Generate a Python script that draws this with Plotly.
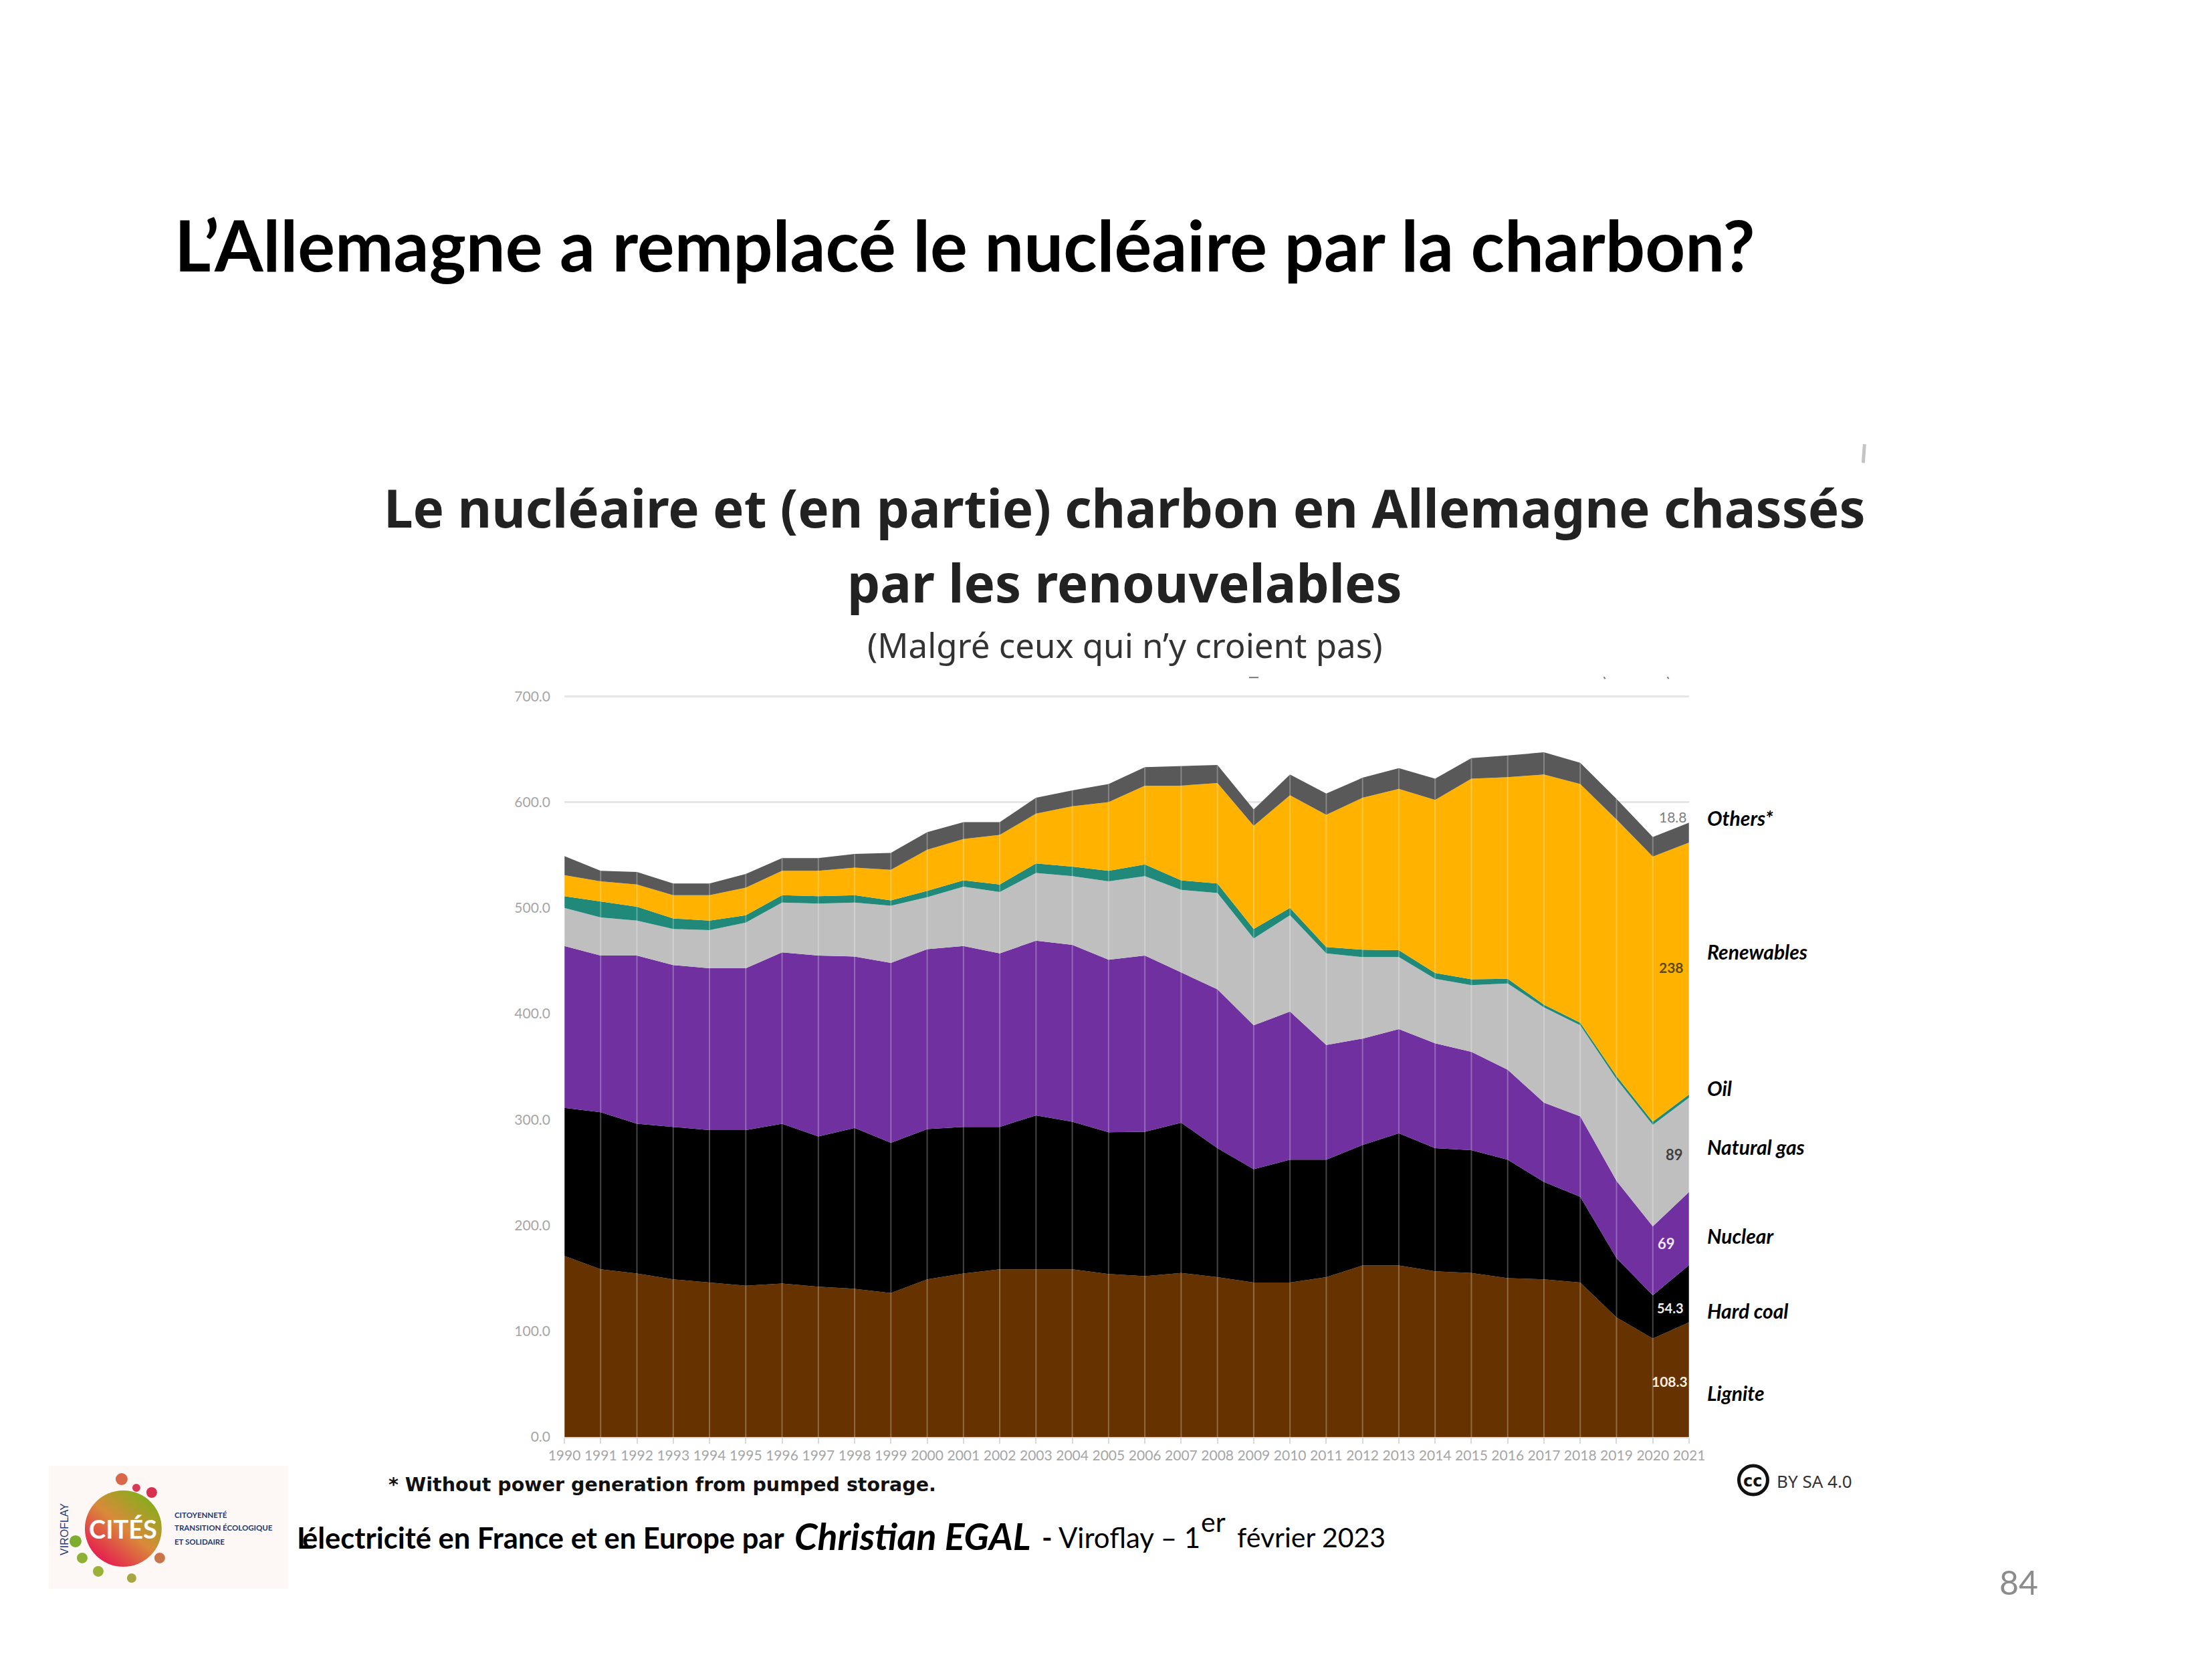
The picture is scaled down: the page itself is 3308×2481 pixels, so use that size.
import base64
import plotly.graph_objects as go

W, H = 3308, 2481
# plot area on the page, pixels (top leaves a little room so the 700 grid line shows)
L, R, T, B = 843.5, 2526.5, 1037.8, 2149

years = list(range(1990, 2022))
lignite = [171, 158.5, 154.5, 149, 146, 143, 145, 142, 140, 136, 149, 154.5, 158.5, 158.5, 158.5, 154,
           152, 155, 151, 146, 146, 151, 162, 162, 156.5, 155, 150, 149, 146, 113, 93, 108.3]
hard_coal = [140, 148.5, 141.5, 144, 144, 147, 151, 142, 152, 142, 142, 138.5, 134.5, 145.5, 139.5, 134,
             136.5, 142, 122, 107, 116, 111, 114, 125, 116.5, 116, 112, 92, 81, 56, 41, 54.3]
nuclear = [153, 148, 159, 153, 153, 153, 162, 171, 162, 170, 170, 171, 164, 165, 167, 163,
           166.5, 142, 150, 136, 140, 108.5, 100.5, 98.5, 99, 93, 85, 75, 76, 73, 65, 69]
natural_gas = [36, 36, 33, 34, 36, 43, 47, 49, 51, 54, 49, 56, 58, 64, 65, 74,
               75, 78, 91, 82, 91, 86.5, 77, 68, 61, 63, 81.5, 90, 86, 96, 96, 89]
oil = [11, 15, 13, 10, 9, 7, 7, 7, 7, 5, 6, 6, 7, 9, 9, 10,
       11, 9, 9, 9, 7, 6, 7, 6.5, 5.5, 5.5, 4.5, 2.5, 2.5, 3, 3, 3.1]
renewables = [20, 19, 21, 22, 24, 26, 23, 24, 26, 29, 39, 39, 47, 47, 57, 65,
              74.5, 89.5, 95, 97.5, 106.5, 125, 143.5, 152.5, 163.5, 189.5, 190.5, 217.5, 225.5, 242.5, 250.5, 238]
others = [18, 10, 12, 11, 11, 13, 12, 12, 13, 16, 16.5, 16, 12, 15, 15, 17,
          17.5, 18.5, 17, 15.5, 19.5, 20, 19, 19.5, 20, 19.5, 20.5, 21, 20, 19.5, 18.5, 18.8]

series_names = ['Lignite', 'Hard coal', 'Nuclear', 'Natural gas', 'Oil', 'Renewables', 'Others*']
series_values = [lignite, hard_coal, nuclear, natural_gas, oil, renewables, others]
series_colors = ['#663300', '#000000', '#7030a0', '#bfbfbf', '#20897a', '#ffb300', '#595959']
label_y = [2088, 1965, 1853, 1720, 1632, 1428, 1228]  # side labels, page pixels

y_ticks = [0, 100, 200, 300, 400, 500, 600, 700]
y_ticktext = ['0.0', '100.0', '200.0', '300.0', '400.0', '500.0', '600.0', '700.0']
totals = [sum(v) for v in zip(*series_values)]


def px(x):
    return (x - L) / (R - L)


def py(y):
    return (B - y) / (B - T)


def text(x, y, s, size, color='#000000', font='Lato', anchor='left', angle=0):
    # -5: annotations sit a little low with yanchor middle
    return dict(xref='paper', yref='paper', x=px(x), y=py(y - 5), text=s, showarrow=False,
                xanchor=anchor, yanchor='middle', textangle=angle, align=anchor,
                font=dict(family=font, size=size, color=color))


fig = go.Figure()
for name, vals, col in zip(series_names, series_values, series_colors):
    fig.add_trace(go.Scatter(x=years, y=vals, name=name, mode='lines', stackgroup='one',
                             line=dict(width=0, color=col), fillcolor=col, hoverinfo='x+y+name'))

# the pale year lines on top of the areas
vx, vy = [], []
for yr, tot in zip(years, totals):
    vx += [yr, yr, None]
    vy += [0, tot, None]
fig.add_trace(go.Scatter(x=vx, y=vy, mode='lines', line=dict(color='rgba(255,255,255,0.27)', width=2),
                         hoverinfo='skip', showlegend=False))

notes = [
    text(258, 370, '<b>L’Allemagne a remplacé le nucléaire par la charbon?</b>', 104.5),
    text(1682, 764, '<b>Le nucléaire et (en partie) charbon en Allemagne chassés</b>', 78, '#222222', 'Noto Sans', 'center'),
    text(1682, 876, '<b>par les renouvelables</b>', 78, '#222222', 'Noto Sans', 'center'),
    text(1682, 969, '(Malgré ceux qui n’y croient pas)', 51, '#333333', 'Noto Sans', 'center'),
    text(578, 2226, '<b>* Without power generation from pumped storage.</b>', 28.5, '#111111', 'DejaVu Sans'),
    text(2656, 2220, 'BY SA 4.0', 26, '#333333', 'Noto Sans'),
    text(2622, 2220, '<b>cc</b>', 24, '#111111', 'DejaVu Sans', 'center'),
    text(441, 2304, '<b>L</b>', 43.5),
    text(449, 2304, '<b>électricité en France et en Europe par</b>', 43.5),
    text(1186, 2302, '<b><i>Christian EGAL</i></b>', 55.5),
    text(1556, 2304, '<b>-</b> Viroflay – 1', 42),
    text(1794, 2281, 'er', 41),
    text(1848, 2304, 'février 2023', 41),
    text(3020, 2371, '84', 50, '#8c8c8c', 'Lato', 'center'),
    # data labels at the right end
    text(2502, 1226, '18.8', 21, '#7f7f7f', 'Lato', 'center'),
    text(2500, 1451, '<b>238</b>', 21, '#5f4a10', 'Lato', 'center'),
    text(2504, 1731, '<b>89</b>', 22, '#404040', 'Lato', 'center'),
    text(2492, 1864, '<b>69</b>', 22, '#f3e6fb', 'Lato', 'center'),
    text(2498, 1961, '<b>54.3</b>', 20, '#f0f0f0', 'Lato', 'center'),
    text(2497, 2070, '<b>108.3</b>', 21, '#fbeedd', 'Lato', 'center'),
    # logo text
    text(183, 2291, '<b>CITÉS</b>', 38, '#ffffff', 'Lato', 'center'),
    text(96, 2292, 'VIROFLAY', 16, '#1f3a6e', 'Liberation Sans', 'center', -90),
    text(258, 2271, '<b>CITOYENNETÉ</b>', 11.5, '#1f3a6e', 'Lato'),
    text(258, 2290, '<b>TRANSITION ÉCOLOGIQUE</b>', 11.5, '#1f3a6e', 'Lato'),
    text(258, 2311, '<b>ET SOLIDAIRE</b>', 11.5, '#1f3a6e', 'Lato'),
]
for name, yp in zip(series_names, label_y):
    notes.append(text(2552, yp, '<b><i>' + name + '</i></b>', 30, '#000000', 'Lato'))


def box(kind, x0, y0, x1, y1, **kw):
    return dict(type=kind, xref='paper', yref='paper', x0=px(x0), x1=px(x1), y0=py(y0), y1=py(y1), **kw)


shapes = [
    box('rect', 72, 2192, 430, 2376, fillcolor='#fdf8f6', line_width=0, layer='below'),
    box('circle', 2601, 2192, 2644, 2235, line=dict(color='#111111', width=5)),
    box('line', 2789, 664, 2787, 692, line=dict(color='#c4c4c4', width=5)),
    # cropped text remnants above the chart
    box('line', 1868, 1013, 1882, 1013, line=dict(color='#777777', width=2)),
    box('line', 2399, 1012, 2401, 1015, line=dict(color='#777777', width=2)),
    box('line', 2494, 1012, 2496, 1015, line=dict(color='#777777', width=2)),
]
# bits around the logo globe
for cx, cy, r, col in [(181, 2212, 9, '#d9674a'), (203, 2225, 6, '#d83a56'), (226, 2232, 8, '#d8304f'),
                       (112, 2305, 9, '#7fae2e'), (122, 2330, 8, '#8fb034'), (196, 2360, 7, '#a8a642'),
                       (238, 2330, 8, '#c9744a'), (146, 2350, 8, '#9bb13a')]:
    shapes.append(box('circle', cx - r, cy - r, cx + r, cy + r, fillcolor=col, line_width=0))

globe = ('<svg xmlns="http://www.w3.org/2000/svg" viewBox="0 0 100 100">'
         '<defs><linearGradient id="g" x1="0.85" y1="0.1" x2="0.2" y2="0.9">'
         '<stop offset="0" stop-color="#85ad1c"/><stop offset="0.5" stop-color="#d98a3a"/>'
         '<stop offset="1" stop-color="#e6204f"/></linearGradient></defs>'
         '<circle cx="50" cy="50" r="50" fill="url(#g)"/></svg>')
globe_src = 'data:image/svg+xml;base64,' + base64.b64encode(globe.encode()).decode()

fig.update_layout(
    width=W, height=H, margin=dict(l=L, r=W - R, t=T, b=H - B),
    paper_bgcolor='white', plot_bgcolor='white', showlegend=False,
    annotations=notes, shapes=shapes,
    images=[dict(source=globe_src, xref='paper', yref='paper', x=px(126), y=py(2229),
                 sizex=115 / (R - L), sizey=114 / (B - T), sizing='stretch', xanchor='left', yanchor='top',
                 layer='above')],
    xaxis=dict(range=[1990, 2021], tickmode='array', tickvals=years, ticktext=[str(y) for y in years],
               showgrid=False, zeroline=False, ticks='outside', ticklen=8, tickcolor='#d9d9d9', tickwidth=2,
               tickangle=0, tickfont=dict(family='Lato', size=21, color='#a6a6a6'),
               showline=True, linecolor='#d9d9d9', linewidth=2),
    yaxis=dict(range=[0, 702], tickmode='array', tickvals=y_ticks, ticktext=y_ticktext,
               showgrid=True, gridcolor='#e6e6e6', gridwidth=3, zeroline=False, ticks='',
               ticklabelstandoff=20, tickfont=dict(family='Lato', size=21, color='#a6a6a6')),
)

fig.write_html('out.html', config=dict(displayModeBar=False), post_script="document.body.style.margin='0';")
